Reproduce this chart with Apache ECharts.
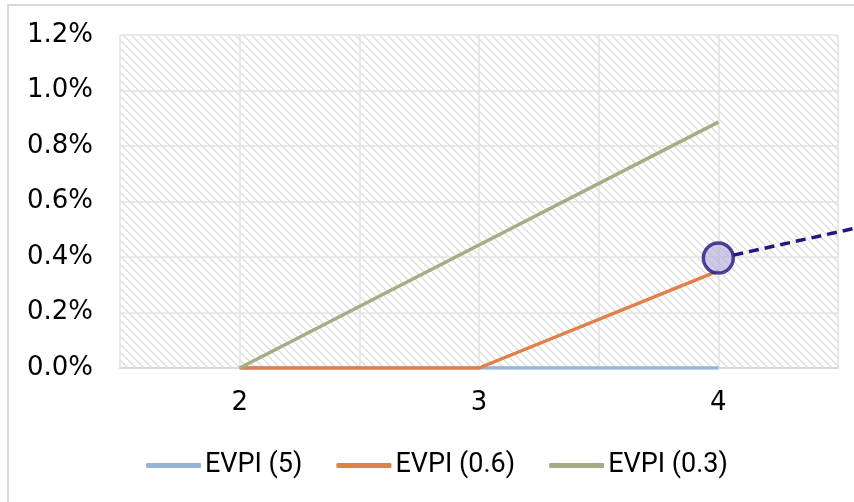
<!DOCTYPE html>
<html>
<head>
<meta charset="utf-8">
<script src="https://cdn.jsdelivr.net/npm/echarts@6/dist/echarts.min.js"></script>
<style>
  html, body { margin: 0; padding: 0; background: #fff; }
  #chart1 { width: 854px; height: 502px; }
  #frame { position: absolute; left: 7px; top: 4px; width: 900px; height: 560px;
           border: 2px solid #d9d9d9; box-sizing: border-box; pointer-events: none; }
</style>
</head>
<body>
<div id="chart1"></div>
<div id="frame"></div>
<script>
var xValues = [2, 3, 4];
var evpi5 = [0, 0, 0];
var evpi06 = [0, 0, 0.0035];
var evpi03 = [0, 0.00443, 0.00886];
var highlight = [[4, 0.00396]];

function pairs(vals) {
	var d = [];
	for (var i = 0; i < xValues.length; i++) {
		d.push([xValues[i], vals[i]]);
	}
	return d;
}

// hatch pattern for plot background
function hatch() {
	var n = 8;
	var c = document.createElement('canvas');
	c.width = n; c.height = n;
	var g = c.getContext('2d');
	g.fillStyle = '#ffffff';
	g.fillRect(0, 0, n, n);
	g.strokeStyle = '#dcdcdc';
	g.lineWidth = 1.3;
	g.beginPath();
	g.moveTo(-2, -2); g.lineTo(n + 2, n + 2);
	g.moveTo(-n - 2, -2); g.lineTo(2, n + 2);
	g.moveTo(n - 2, -2 - n); g.lineTo(n + n + 2, n + 2 - n);
	g.stroke();
	return c;
}

var myChart = echarts.init(document.getElementById('chart1'));
var axisFont = '"DejaVu Sans", sans-serif';

var option = {
	animation: false,
	grid: {
		left: 120, right: 16, top: 35, bottom: 134,
		show: true,
		borderWidth: 0,
		backgroundColor: { image: hatch(), repeat: 'repeat' }
	},
	legend: {
		top: 447,
		left: 141,
		itemWidth: 55,
		itemHeight: 5,
		itemGap: 34,
		icon: 'roundRect',
		textStyle: { fontSize: 27, color: '#000', fontFamily: 'Roboto, sans-serif', padding: [0, 0, 0, -1] },
		data: ['EVPI (5)', 'EVPI (0.6)', 'EVPI (0.3)']
	},
	xAxis: {
		type: 'value',
		min: 1.5, max: 4.5, interval: 0.5,
		axisLine: { show: true, lineStyle: { color: '#d9d9d9', width: 2 } },
		axisTick: { show: false },
		splitLine: { show: true, lineStyle: { color: '#e3e3e3', width: 1.5 } },
		axisLabel: {
			fontSize: 26, color: '#000', fontFamily: axisFont, margin: 22,
			formatter: function (v) { return v % 1 === 0 ? String(v) : ''; }
		}
	},
	yAxis: {
		type: 'value',
		min: 0, max: 0.012, interval: 0.002,
		axisLine: { show: false },
		axisTick: { show: false },
		splitLine: { show: true, lineStyle: { color: '#e3e3e3', width: 1.5 } },
		axisLabel: {
			fontSize: 26, color: '#000', fontFamily: axisFont, margin: 27,
			formatter: function (v) { return (v * 100).toFixed(1) + '%'; }
		}
	},
	series: [{
		name: 'EVPI (5)', type: 'line', data: pairs(evpi5),
		symbol: 'none', color: '#95b3d7', lineStyle: { width: 3.5 }
	}, {
		name: 'EVPI (0.6)', type: 'line', data: pairs(evpi06),
		symbol: 'none', color: '#e0804a', lineStyle: { width: 3.5 }
	}, {
		name: 'EVPI (0.3)', type: 'line', data: pairs(evpi03),
		symbol: 'none', color: '#a3ae86', lineStyle: { width: 3.5 }
	}, {
		name: 'mark', type: 'scatter', data: highlight,
		symbolSize: 30, z: 5,
		itemStyle: { color: 'rgba(185,178,222,0.85)', borderColor: '#23167f', borderWidth: 3.5 }
	}]
};
myChart.setOption(option);

// dashed call-out line leaving the marker
var p = myChart.convertToPixel({ gridIndex: 0 }, highlight[0]);
myChart.setOption({
	graphic: [{
		type: 'line', z: 4,
		shape: { x1: p[0] + 15, y1: p[1] - 3, x2: 860, y2: p[1] - 31 },
		style: { stroke: '#23167f', lineWidth: 3.5, lineDash: [10, 6] }
	}]
});
</script>
</body>
</html>
